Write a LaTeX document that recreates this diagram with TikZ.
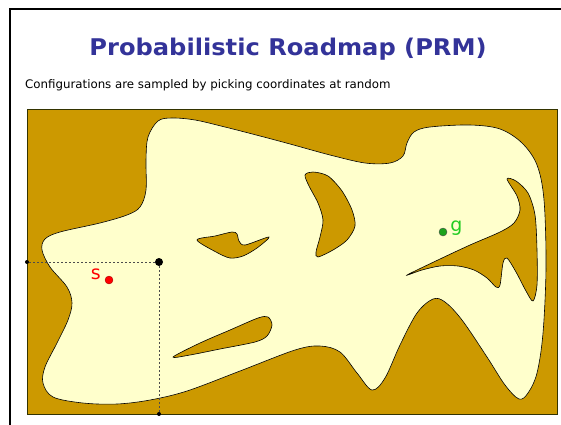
\documentclass[tikz,border=0pt]{standalone}
\usepackage{fontspec}
\setmainfont{DejaVu Sans}
\usepackage{tikz}
\usetikzlibrary{positioning}
\definecolor{titleblue}{HTML}{333399}
\definecolor{obstbrown}{HTML}{CC9900}
\definecolor{freecream}{HTML}{FFFFCC}
\definecolor{goalgreen}{HTML}{22CC22}
\definecolor{edgedark}{HTML}{333300}

\begin{document}
\begin{tikzpicture}[
  x=1pt, y=-1pt,
  every node/.style={inner sep=0pt},
  titletext/.style={font=\fontsize{23}{26}\selectfont\bfseries, text=titleblue},
  subtext/.style={font=\fontsize{11.8}{13}\selectfont, anchor=base west},
  region/.style={draw=black, line width=0.6pt, fill=freecream},
  obstacle/.style={draw=black, line width=0.6pt, fill=obstbrown},
  bigdot/.style={circle, fill=black, minimum size=8pt},
  smalldot/.style={circle, fill=black, minimum size=4pt},
  probe/.style={dashed, dash pattern=on 2pt off 2pt, black!70, line width=0.5pt}
]
\useasboundingbox (0,0) rectangle (561,424);
\clip (0,0) rectangle (561,424);
\fill[white] (0,0) rectangle (561,424);
% slide frame
\draw[line width=2.5pt] (10,9) rectangle (620,480);

\node[titletext, anchor=base] (title) at (288,55) {\scalebox{1.05}[1]{Probabilistic Roadmap (PRM)}};
\node[subtext] (caption) at (25,88) {Configurations are sampled by picking coordinates at random};

% workspace
\draw[fill=obstbrown, draw=edgedark, line width=0.6pt] (27,109) rectangle (557,414);

% free space
\draw[region] plot[smooth cycle, tension=0.55] coordinates {
  (148,137) (158,121) (172,118) (195,120) (225,127) (260,136) (290,144)
  (330,155) (365,163) (390,163) (403,156) (407,143) (414,132) (430,127)
  (470,125) (500,129) (522,143) (537,165) (544,200) (546,267) (543,333)
  (537,373) (528,393) (519,399) (505,385) (487,357) (462,320) (445,302)
  (433,299) (417,313) (400,345) (385,378) (372,390) (357,373) (340,352)
  (320,346) (295,350) (240,371) (187,391) (150,400) (117,404) (83,403)
  (53,397) (43,383) (45,367) (57,343) (68,320) (72,303) (67,287) (50,267)
  (42,250) (45,239) (60,232) (100,223) (127,215) (140,207) (146,190)
  (146,160)};

% obstacles
\draw[obstacle] plot[smooth cycle, tension=0.5] coordinates {
  (197,240) (215,236) (232,232) (237,234) (239,241) (245,245) (269,237)
  (257,248) (243,256) (230,258) (216,252)};
\draw[obstacle] plot[smooth cycle, tension=0.5] coordinates {
  (173,357) (200,343) (230,330) (258,318) (268,317) (272,325) (267,336)
  (255,342) (220,349) (190,355)};
\draw[obstacle] plot[smooth cycle, tension=0.5] coordinates {
  (305,175) (313,172) (328,176) (342,191) (352,210) (355,226) (347,240)
  (333,250) (318,257) (316,252) (320,237) (323,220) (318,203) (309,186)};
\draw[obstacle] plot[smooth cycle, tension=0.5] coordinates {
  (407,275) (440,259) (470,245) (500,232) (514,223) (520,210) (517,196)
  (507,179) (516,181) (528,193) (535,215) (537,250) (537,285) (533,301)
  (526,291) (516,272) (507,258) (503,263) (500,285) (496,287) (487,278)
  (474,270) (458,266) (440,266) (422,270)};

% start and goal
\node[circle, fill=red, draw=red!60!black, line width=0.3pt, minimum size=8pt] (start) at (109,280) {};
\node[text=red, font=\fontsize{19}{20}\selectfont, left=4pt of start, yshift=6pt] (slabel) {s};
\node[circle, fill=goalgreen!80!black, draw=black!70, line width=0.4pt, minimum size=8pt] (goal) at (443,232) {};
\node[text=goalgreen, font=\fontsize{19}{20}\selectfont, right=3pt of goal, yshift=4pt] (glabel) {g};

% sampled configuration
\node[bigdot] (sample) at (159,262) {};
\node[smalldot] (xaxis) at (27,262) {};
\node[smalldot] (yaxis) at (159,414) {};
\draw[probe] (xaxis) -- (sample);
\draw[probe] (sample) -- (yaxis);
\end{tikzpicture}
\end{document}
